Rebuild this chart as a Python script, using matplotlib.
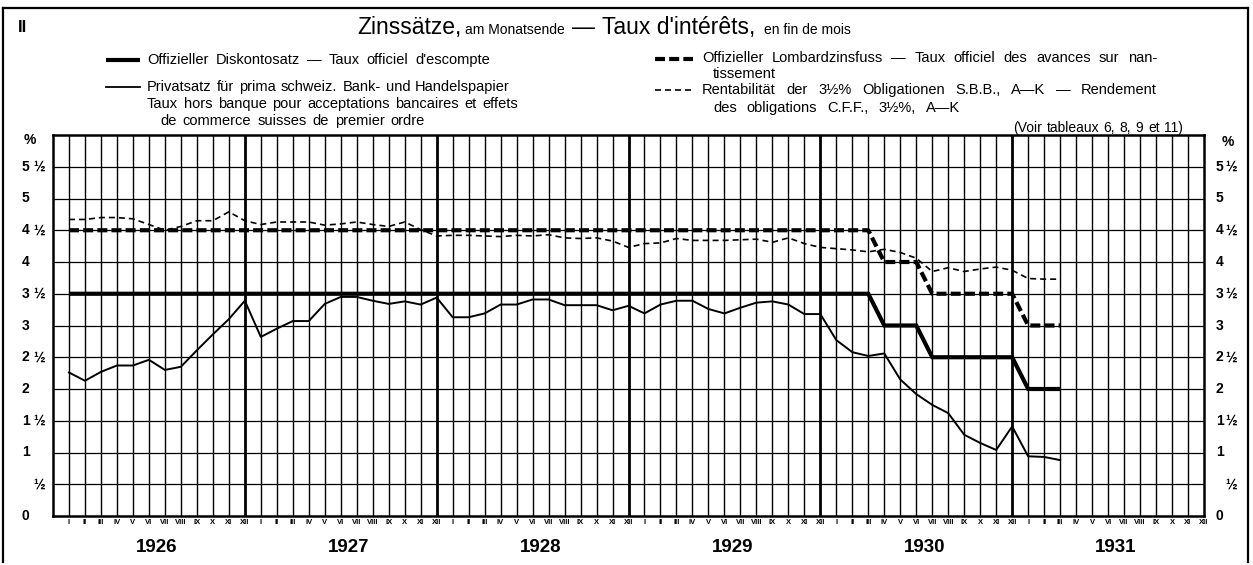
import matplotlib
matplotlib.use('Agg')
import matplotlib.pyplot as plt
from matplotlib.lines import Line2D
from matplotlib.transforms import blended_transform_factory

plt.rcParams['font.family'] = ['Liberation Sans', 'DejaVu Sans']

# ---------------- data ----------------
years = ['1926', '1927', '1928', '1929', '1930', '1931']
month_labels = ['I', 'II', 'III', 'IV', 'V', 'VI', 'VII', 'VIII', 'IX', 'X', 'XI', 'XII']
# month index: 1 = Jan 1926 ... 63 = Mar 1931
months = list(range(1, 64))

discount_rate = [3.5] * 51 + [3.0] * 3 + [2.5] * 6 + [2.0] * 3
lombard_rate = [4.5] * 51 + [4.0] * 3 + [3.5] * 6 + [3.0] * 3

private_rate = [
    2.26, 2.13, 2.27, 2.37, 2.37, 2.46, 2.30, 2.35, 2.61, 2.86, 3.10, 3.39,   # 1926
    2.82, 2.95, 3.07, 3.07, 3.34, 3.45, 3.45, 3.39, 3.34, 3.38, 3.33, 3.44,   # 1927
    3.13, 3.13, 3.19, 3.33, 3.33, 3.41, 3.41, 3.32, 3.32, 3.32, 3.24, 3.31,   # 1928
    3.19, 3.33, 3.39, 3.39, 3.26, 3.19, 3.28, 3.36, 3.38, 3.33, 3.18, 3.18,   # 1929
    2.77, 2.58, 2.52, 2.56, 2.15, 1.92, 1.75, 1.62, 1.28, 1.15, 1.04, 1.41,   # 1930
    0.94, 0.93, 0.88,                                                         # 1931
]

bond_yield = [
    4.67, 4.67, 4.70, 4.70, 4.68, 4.59, 4.50, 4.56, 4.65, 4.65, 4.79, 4.65,   # 1926
    4.59, 4.63, 4.63, 4.63, 4.58, 4.60, 4.63, 4.59, 4.56, 4.63, 4.51, 4.41,   # 1927
    4.42, 4.42, 4.41, 4.40, 4.42, 4.41, 4.43, 4.38, 4.37, 4.38, 4.33, 4.23,   # 1928
    4.29, 4.30, 4.37, 4.34, 4.34, 4.34, 4.35, 4.36, 4.31, 4.38, 4.29, 4.23,   # 1929
    4.21, 4.19, 4.16, 4.20, 4.15, 4.06, 3.85, 3.91, 3.85, 3.89, 3.92, 3.87,   # 1930
    3.74, 3.73, 3.73,                                                         # 1931
]

ytick_values = [0, 0.5, 1, 1.5, 2, 2.5, 3, 3.5, 4, 4.5, 5, 5.5]
ytick_int = ['0', '', '1', '1', '2', '2', '3', '3', '4', '4', '5', '5']
ytick_half = ['', '½', '', '½', '', '½', '', '½', '', '½', '', '½']

# ---------------- figure ----------------
W, H = 1253, 565
DPI = 100
fig = plt.figure(figsize=(W / DPI, H / DPI), dpi=DPI)
fig.patch.set_facecolor('white')
renderer = fig.canvas.get_renderer()


def fx(px):
    return px / W


def fy(py):
    return 1 - py / H


ax = fig.add_axes([fx(53), fy(516), fx(1204) - fx(53), fy(135) - fy(516)])
ax.set_xlim(0, 72)
ax.set_ylim(0, 6)
ax.set_xticks([])
ax.set_yticks([])
for s in ax.spines.values():
    s.set_linewidth(1.8)
    s.set_color('black')

# grid
for m in range(1, 72):
    lw = 2.0 if m % 12 == 0 else 1.0
    ax.axvline(m, color='black', lw=lw, zorder=1)
for v in [0.5 * k for k in range(1, 12)]:
    ax.axhline(v, color='black', lw=0.9, zorder=1)

# series
ax.plot(months, discount_rate, color='black', lw=3.0, solid_capstyle='butt',
        solid_joinstyle='miter', zorder=4)
ax.plot(months, lombard_rate, color='black', lw=3.0, dashes=(2.4, 1.0),
        dash_capstyle='butt', zorder=4)
ax.plot(months, private_rate, color='black', lw=1.4, zorder=5)
ax.plot(months, bond_yield, color='black', lw=1.2, dashes=(3.6, 2.4), zorder=5)

# y labels (left and right)
tr = blended_transform_factory(fig.transFigure, ax.transData)
lab_kw = dict(fontsize=10, fontweight='bold', va='center', ha='left', transform=tr)
for v, a, b in zip(ytick_values, ytick_int, ytick_half):
    if a:
        fig.text(fx(22), v, a, **lab_kw)
        fig.text(fx(1216), v, a, **lab_kw)
    if b:
        fig.text(fx(33), v, b, **lab_kw)
        fig.text(fx(1225), v, b, **lab_kw)
fig.text(fx(24), fy(140), '%', fontsize=10, fontweight='bold', va='center', ha='left')
fig.text(fx(1222), fy(142), '%', fontsize=10, fontweight='bold', va='center', ha='left')

# month and year labels
trx = blended_transform_factory(ax.transData, fig.transFigure)
for yi, yr in enumerate(years):
    for mi, ml in enumerate(month_labels):
        fig.text(yi * 12 + mi + 1, fy(523), ml, transform=trx, fontsize=5.5,
                 fontweight='bold', ha='center', va='center')
    fig.text(yi * 12 + 6.5, fy(547), yr, transform=trx, fontsize=13.5,
             fontweight='bold', ha='center', va='center')

# outer frame
for (x0, y0, x1, y1) in [(3, 8, 3, 562), (3, 8, 1248, 8), (1248, 8, 1248, 562)]:
    fig.add_artist(Line2D([fx(x0), fx(x1)], [fy(y0), fy(y1)], color='black', lw=1.6,
                          transform=fig.transFigure))

fig.text(fx(18), fy(28), 'II', fontsize=12, fontweight='bold', va='center', ha='left')

# title (pieces laid out sequentially)
pieces = [('Zinssätze,', 16.5, 4), ('am Monatsende', 10, 7), ('—', 16.5, 7),
          ("Taux d'intérêts,", 16.5, 9), ('en fin de mois', 10, 0)]
x = 357
for s, size, gap in pieces:
    t = fig.text(fx(x), fy(34), s, fontsize=size, ha='left', va='baseline')
    x += t.get_window_extent(renderer).width + gap


def justified(text, x0, x1, y, size=10.5):
    """Place words of a line so that it spans x0..x1 (pixels)."""
    words = text.split()
    arts = [fig.text(0, fy(y), w, fontsize=size, ha='left', va='center') for w in words]
    ws = [a.get_window_extent(renderer).width for a in arts]
    gap = (x1 - x0 - sum(ws)) / max(len(words) - 1, 1)
    xx = x0
    for a, w in zip(arts, ws):
        a.set_x(fx(xx))
        xx += w + gap


# legend
fig.add_artist(Line2D([fx(106), fx(140)], [fy(60), fy(60)], color='black', lw=3.0,
                      solid_capstyle='butt'))
justified("Offizieller Diskontosatz — Taux officiel d'escompte", 147, 490, 60)
fig.add_artist(Line2D([fx(106), fx(140)], [fy(87), fy(87)], color='black', lw=1.3))
justified('Privatsatz für prima schweiz. Bank- und Handelspapier', 147, 510, 87)
justified('Taux hors banque pour acceptations bancaires et effets', 147, 518, 104)
justified('de commerce suisses de premier ordre', 160, 425, 121)

fig.add_artist(Line2D([fx(655), fx(693)], [fy(59), fy(59)], color='black', lw=3.0,
                      dashes=(2.4, 1.0), dash_capstyle='butt'))
justified('Offizieller Lombardzinsfuss — Taux officiel des avances sur nan-', 702, 1157, 58)
fig.text(fx(713), fy(74), 'tissement', fontsize=10.5, ha='left', va='center')
fig.add_artist(Line2D([fx(655), fx(693)], [fy(90), fy(90)], color='black', lw=1.2,
                      dashes=(3.6, 2.4)))
justified('Rentabilität der 3½% Obligationen S.B.B., A—K — Rendement', 702, 1157, 90)
justified('des obligations C.F.F., 3½%, A—K', 713, 960, 108)
justified('(Voir tableaux 6, 8, 9 et 11)', 1013, 1183, 128, size=10)

fig.savefig('out.png', dpi=DPI, facecolor='white')
